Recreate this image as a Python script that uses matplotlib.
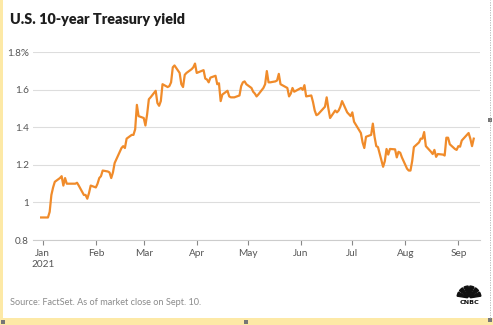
import matplotlib
matplotlib.use("Agg")
import matplotlib.pyplot as plt
from matplotlib.patches import Wedge, Rectangle
import numpy as np
import pandas as pd

# 10-year Treasury yield, daily close (%)
dates = [
    "2020-12-31", "2021-01-04", "2021-01-05", "2021-01-06", "2021-01-07", "2021-01-08",
    "2021-01-11", "2021-01-12", "2021-01-13", "2021-01-14", "2021-01-15",
    "2021-01-19", "2021-01-20", "2021-01-21", "2021-01-22",
    "2021-01-25", "2021-01-26", "2021-01-27", "2021-01-28", "2021-01-29",
    "2021-02-01", "2021-02-02", "2021-02-03", "2021-02-04", "2021-02-05",
    "2021-02-08", "2021-02-09", "2021-02-10", "2021-02-11", "2021-02-12",
    "2021-02-16", "2021-02-17", "2021-02-18", "2021-02-19",
    "2021-02-22", "2021-02-23", "2021-02-24", "2021-02-25", "2021-02-26",
    "2021-03-01", "2021-03-02", "2021-03-03", "2021-03-04", "2021-03-05",
    "2021-03-08", "2021-03-09", "2021-03-10", "2021-03-11", "2021-03-12",
    "2021-03-15", "2021-03-16", "2021-03-17", "2021-03-18", "2021-03-19",
    "2021-03-22", "2021-03-23", "2021-03-24", "2021-03-25", "2021-03-26",
    "2021-03-29", "2021-03-30", "2021-03-31", "2021-04-01",
    "2021-04-05", "2021-04-06", "2021-04-07", "2021-04-08", "2021-04-09",
    "2021-04-12", "2021-04-13", "2021-04-14", "2021-04-15", "2021-04-16",
    "2021-04-19", "2021-04-20", "2021-04-21", "2021-04-22", "2021-04-23",
    "2021-04-26", "2021-04-27", "2021-04-28", "2021-04-29", "2021-04-30",
    "2021-05-03", "2021-05-04", "2021-05-05", "2021-05-06", "2021-05-07",
    "2021-05-10", "2021-05-11", "2021-05-12", "2021-05-13", "2021-05-14",
    "2021-05-17", "2021-05-18", "2021-05-19", "2021-05-20", "2021-05-21",
    "2021-05-24", "2021-05-25", "2021-05-26", "2021-05-27", "2021-05-28",
    "2021-06-01", "2021-06-02", "2021-06-03", "2021-06-04",
    "2021-06-07", "2021-06-08", "2021-06-09", "2021-06-10", "2021-06-11",
    "2021-06-14", "2021-06-15", "2021-06-16", "2021-06-17", "2021-06-18",
    "2021-06-21", "2021-06-22", "2021-06-23", "2021-06-24", "2021-06-25",
    "2021-06-28", "2021-06-29", "2021-06-30", "2021-07-01", "2021-07-02",
    "2021-07-06", "2021-07-07", "2021-07-08", "2021-07-09",
    "2021-07-12", "2021-07-13", "2021-07-14", "2021-07-15", "2021-07-16",
    "2021-07-19", "2021-07-20", "2021-07-21", "2021-07-22", "2021-07-23",
    "2021-07-26", "2021-07-27", "2021-07-28", "2021-07-29", "2021-07-30",
    "2021-08-02", "2021-08-03", "2021-08-04", "2021-08-05", "2021-08-06",
    "2021-08-09", "2021-08-10", "2021-08-11", "2021-08-12", "2021-08-13",
    "2021-08-16", "2021-08-17", "2021-08-18", "2021-08-19", "2021-08-20",
    "2021-08-23", "2021-08-24", "2021-08-25", "2021-08-26", "2021-08-27",
    "2021-08-30", "2021-08-31", "2021-09-01", "2021-09-02", "2021-09-03",
    "2021-09-07", "2021-09-08", "2021-09-09", "2021-09-10",
]
yields = [
    0.92, 0.92, 0.95, 1.04, 1.08, 1.11,
    1.13, 1.14, 1.09, 1.13, 1.10,
    1.10, 1.10, 1.105, 1.09,
    1.04, 1.04, 1.02, 1.05, 1.09,
    1.08, 1.10, 1.13, 1.14, 1.17,
    1.165, 1.16, 1.13, 1.16, 1.21,
    1.29, 1.30, 1.29, 1.34,
    1.36, 1.36, 1.39, 1.52, 1.46,
    1.45, 1.41, 1.47, 1.55, 1.56,
    1.595, 1.53, 1.515, 1.54, 1.63,
    1.615, 1.62, 1.64, 1.72, 1.73,
    1.69, 1.63, 1.615, 1.68, 1.69,
    1.71, 1.72, 1.74, 1.69,
    1.705, 1.66, 1.655, 1.64, 1.665,
    1.675, 1.63, 1.635, 1.54, 1.575,
    1.595, 1.565, 1.56, 1.56, 1.56,
    1.57, 1.62, 1.64, 1.645, 1.63,
    1.61, 1.59, 1.58, 1.565, 1.575,
    1.61, 1.63, 1.70, 1.64, 1.64,
    1.645, 1.65, 1.685, 1.63, 1.625,
    1.61, 1.565, 1.58, 1.61, 1.59,
    1.61, 1.60, 1.625, 1.565,
    1.57, 1.535, 1.49, 1.465, 1.47,
    1.50, 1.51, 1.56, 1.50, 1.45,
    1.49, 1.48, 1.49, 1.51, 1.54,
    1.48, 1.47, 1.46, 1.48, 1.43,
    1.37, 1.32, 1.29, 1.35,
    1.36, 1.42, 1.35, 1.30, 1.295,
    1.19, 1.22, 1.285, 1.255, 1.285,
    1.283, 1.24, 1.27, 1.265, 1.24,
    1.18, 1.17, 1.17, 1.22, 1.295,
    1.32, 1.34, 1.34, 1.375, 1.30,
    1.27, 1.258, 1.28, 1.243, 1.258,
    1.255, 1.25, 1.345, 1.345, 1.31,
    1.285, 1.28, 1.30, 1.297, 1.33,
    1.37, 1.34, 1.30, 1.34,
]

y_ticks = [0.8, 1.0, 1.2, 1.4, 1.6, 1.8]
y_tick_labels = ["0.8", "1", "1.2", "1.4", "1.6", "1.8%"]
month_starts = ["2021-01-01", "2021-02-01", "2021-03-01", "2021-04-01", "2021-05-01",
                "2021-06-01", "2021-07-01", "2021-08-01", "2021-09-01"]
month_labels = ["Jan\n2021", "Feb", "Mar", "Apr", "May", "Jun", "Jul", "Aug", "Sep"]

title = "U.S. 10-year Treasury yield"
source = "Source: FactSet. As of market close on Sept. 10."

plt.rcParams["font.family"] = ["Lato", "DejaVu Sans"]

W, H = 493, 325
fig = plt.figure(figsize=(W / 100, H / 100), dpi=100)
fig.patch.set_facecolor("white")

ax = fig.add_axes([33 / W, 1 - 240 / H, (480 - 33) / W, (240 - 52.3) / H])
ax.set_facecolor("white")

x = pd.to_datetime(dates)
ax.plot(x, yields, color="#f08b2a", lw=1.6, solid_joinstyle="round", clip_on=False, zorder=3)

ax.set_xlim(pd.Timestamp("2020-12-26 06:00"), pd.Timestamp("2021-09-13 16:00"))
ax.set_ylim(0.8, 1.8)

ax.set_yticks(y_ticks)
ax.set_yticklabels(y_tick_labels)
ax.grid(axis="y", color="#dddddd", lw=0.8, zorder=0)
ax.tick_params(axis="y", length=0, pad=3, labelsize=7.2, labelcolor="#555555")

ticks_x = pd.to_datetime(month_starts)
ax.set_xticks(ticks_x)
ax.set_xticklabels(month_labels, linespacing=1.35)
ax.tick_params(axis="x", length=3.5, width=0.8, color="#888888", pad=3,
               labelsize=7.2, labelcolor="#555555")

for side in ["top", "right", "left"]:
    ax.spines[side].set_visible(False)
ax.spines["bottom"].set_color("#cccccc")
ax.spines["bottom"].set_linewidth(0.8)

fig.text(10 / W, 1 - 24.5 / H, title, fontsize=10.4, fontweight="heavy", color="#1e1e1e",
         ha="left", va="baseline")
fig.text(10 / W, 1 - 305 / H, source, fontsize=6.6, color="#8a8a8a",
         ha="left", va="baseline")

# Peacock logo
logo = fig.add_axes([454 / W, 1 - 309 / H, 30 / W, 28 / H])
logo.set_xlim(0, 30)
logo.set_ylim(0, 28)
logo.axis("off")
cx, cy = 15, 11
angles = np.linspace(5, 175, 7)
for a0, a1 in zip(angles[:-1], angles[1:]):
    logo.add_patch(Wedge((cx, cy), 12, a0 + 4, a1 - 4, width=10.5, color="#111111"))
logo.text(cx, 8.5, "CNBC", ha="center", va="top", fontsize=4.6, fontweight="heavy",
          color="#111111", family="DejaVu Sans")

# Frame strips and dotted right edge
fig.add_artist(Rectangle((0, 0), 2.5 / W, 1, transform=fig.transFigure,
                         color="#fde9a6", lw=0))
fig.add_artist(Rectangle((0, 0), 1, 7 / H, transform=fig.transFigure,
                         color="#fde9a6", lw=0))
fig.add_artist(plt.Line2D([490 / W, 490 / W], [7 / H, 1], transform=fig.transFigure,
                          color="#b0b0b0", lw=0.6, ls=(0, (1.5, 1.5))))
for hx, hy in [(490, 120), (490, 320), (246, 321.5), (3, 321.5)]:
    fig.add_artist(Rectangle(((hx - 2) / W, 1 - (hy + 2) / H), 4 / W, 4 / H,
                             transform=fig.transFigure, color="#777777", lw=0))

fig.savefig("out.png", dpi=100, facecolor="white")
